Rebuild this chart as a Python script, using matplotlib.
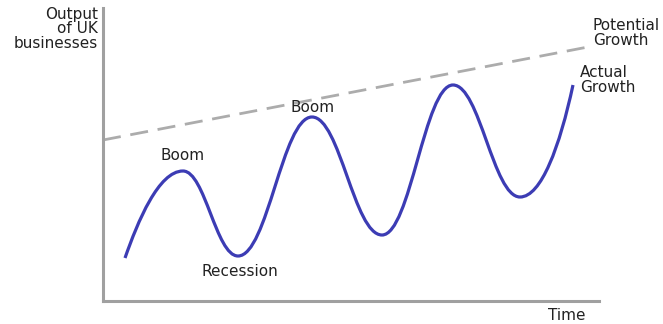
import matplotlib.pyplot as plt
from matplotlib.path import Path
from matplotlib.patches import PathPatch

# Business cycle turning points (time, output)
cycle_time = [22, 80, 135, 209, 279, 350, 417, 470]
cycle_output = [43, 130, 45, 184, 66, 216, 104, 216]

# Trend line for potential output
trend_time = [0, 485]
trend_output = [161, 254]

fig = plt.figure(figsize=(6.63, 3.24), dpi=100)
ax = fig.add_axes([103 / 663, 23 / 324, 496 / 663, 293 / 324])
ax.set_xlim(0, 496)
ax.set_ylim(0, 293)

# Smooth wave: cubic Bezier segments with flat tangents at peaks and troughs
verts = [(cycle_time[0], cycle_output[0])]
codes = [Path.MOVETO]
n = len(cycle_time)
for i in range(n - 1):
    x0, y0 = cycle_time[i], cycle_output[i]
    x1, y1 = cycle_time[i + 1], cycle_output[i + 1]
    dx = x1 - x0
    if i == 0:
        c1 = (x0 + dx * 0.22, y0 + (y1 - y0) * 0.42)
        c2 = (x1 - dx * 0.42, y1)
    elif i == n - 2:
        c1 = (x0 + dx * 0.4, y0)
        c2 = (x1 - dx * 0.25, y1 - (y1 - y0) * 0.55)
    else:
        c1 = (x0 + dx * 0.4, y0)
        c2 = (x1 - dx * 0.4, y1)
    verts += [c1, c2, (x1, y1)]
    codes += [Path.CURVE4] * 3
ax.add_patch(PathPatch(Path(verts, codes), facecolor="none",
                       edgecolor="#3c3cb4", lw=2.3, capstyle="butt"))

ax.plot(trend_time, trend_output, color="#acacac", lw=2.0,
        dashes=(6.5, 3.5), solid_capstyle="butt")

for side in ["top", "right"]:
    ax.spines[side].set_visible(False)
for side in ["left", "bottom"]:
    ax.spines[side].set_color("#a0a0a0")
    ax.spines[side].set_linewidth(2.2)
ax.set_xticks([])
ax.set_yticks([])

fs = 11
fig.text(98 / 663, 1 - 7 / 324, "Output\nof UK\nbusinesses", ha="right", va="top",
         fontsize=fs, linespacing=0.95, color="#222222")
ax.text(80, 146, "Boom", ha="center", va="center", fontsize=fs, color="#222222")
ax.text(210, 194, "Boom", ha="center", va="center", fontsize=fs, color="#222222")
ax.text(137, 30, "Recession", ha="center", va="center", fontsize=fs, color="#222222")
ax.text(490, 268, "Potential\nGrowth", ha="left", va="center", fontsize=fs,
        linespacing=0.95, color="#222222")
ax.text(477, 221, "Actual\nGrowth", ha="left", va="center", fontsize=fs,
        linespacing=0.95, color="#222222")
ax.text(464, -15, "Time", ha="center", va="center", fontsize=fs,
        color="#222222", clip_on=False)

fig.savefig("out.png", dpi=100)
